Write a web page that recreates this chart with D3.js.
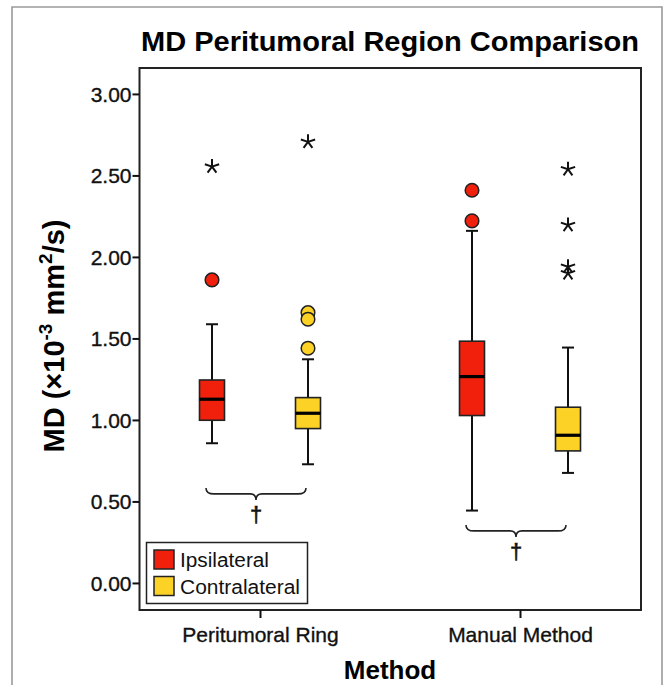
<!DOCTYPE html>
<html>
<head>
<meta charset="utf-8">
<script src="https://cdn.jsdelivr.net/npm/d3@7"></script>
<style>
  html, body { margin: 0; padding: 0; background: #fff; }
  svg { display: block; font-family: "Liberation Sans", Arial, Helvetica, sans-serif; }
</style>
</head>
<body>
<svg id="chart" width="663" height="685"></svg>
<script>
// ---- data ----
const methods = ["Peritumoral Ring", "Manual Method"];
const sides = ["Ipsilateral", "Contralateral"];
const sideColors = ["#f0200c", "#fdd227"];

// five-number summaries per method, per side: [whiskerLow, q1, median, q3, whiskerHigh]
const ipsilateralStats = [
  [0.857, 0.998, 1.127, 1.245, 1.587],
  [0.444, 1.027, 1.266, 1.483, 2.160]
];
const contralateralStats = [
  [0.728, 0.947, 1.041, 1.137, 1.372],
  [0.675, 0.810, 0.906, 1.078, 1.444]
];

// mild outliers (circles) and extreme outliers (asterisks)
const ipsilateralOutliers = [[1.859], [2.409, 2.221]];
const contralateralOutliers = [[1.440, 1.658, 1.618], []];
const ipsilateralExtremes = [[2.554], []];
const contralateralExtremes = [[2.706], [2.538, 2.196, 1.940, 1.900]];

// significance braces under each method
const braceLevels = [0.583, 0.356];
const braceSymbol = "†";

const yTicks = [0, 0.5, 1, 1.5, 2, 2.5, 3];

// ---- layout ----
const svg = d3.select("#chart");
const plot = { left: 139.5, top: 68, right: 641, bottom: 610 };

const y = d3.scaleLinear().domain([-0.166, 3.159]).range([plot.bottom, plot.top]);
const x = d3.scalePoint().domain(methods).range([260, 520]);
const side = d3.scalePoint().domain(sides).range([-48, 48]);
const boxW = 25, capW = 12;

// outer frame
svg.append("path")
  .attr("d", "M12,700 V7 H662 V700")
  .attr("fill", "none").attr("stroke", "#9a9a9a").attr("stroke-width", 1.6);

// title
svg.append("text")
  .attr("x", 390).attr("y", 51)
  .attr("text-anchor", "middle")
  .attr("font-size", 28).attr("font-weight", "bold")
  .attr("textLength", 498).attr("lengthAdjust", "spacingAndGlyphs")
  .text("MD Peritumoral Region Comparison");

// plot frame
svg.append("rect")
  .attr("x", plot.left).attr("y", plot.top)
  .attr("width", plot.right - plot.left).attr("height", plot.bottom - plot.top)
  .attr("fill", "none").attr("stroke", "#222").attr("stroke-width", 2);

// y axis
const yAxis = d3.axisLeft(y).tickValues(yTicks).tickFormat(d3.format(".2f")).tickSize(7).tickSizeOuter(0);
const gy = svg.append("g").attr("transform", `translate(${plot.left},0)`).call(yAxis);
gy.attr("font-size", null).attr("font-family", null);
gy.select(".domain").remove();
gy.selectAll(".tick line").attr("stroke", "#111").attr("stroke-width", 2);
gy.selectAll(".tick text").style("font-size", "21px").attr("fill", "#111")
  .attr("stroke", "#111").attr("stroke-width", 0.35)
  .attr("x", -8).attr("dy", "0.35em");

// x axis
const xAxis = d3.axisBottom(x).tickSize(8).tickSizeOuter(0);
const gx = svg.append("g").attr("transform", `translate(0,${plot.bottom})`).call(xAxis);
gx.attr("font-size", null).attr("font-family", null);
gx.select(".domain").remove();
gx.selectAll(".tick line").attr("stroke", "#111").attr("stroke-width", 2);
gx.selectAll(".tick text").style("font-size", "21px").attr("fill", "#111")
  .attr("stroke", "#111").attr("stroke-width", 0.35).attr("y", 17);

// axis titles
svg.append("text")
  .attr("x", 390).attr("y", 679)
  .attr("text-anchor", "middle").attr("font-size", 26).attr("font-weight", "bold")
  .text("Method");

const yTitle = svg.append("text")
  .attr("transform", "translate(64,336) rotate(-90)")
  .attr("text-anchor", "middle").attr("font-size", 29).attr("font-weight", "bold");
yTitle.append("tspan").text("MD (×10");
yTitle.append("tspan").attr("font-size", 19).attr("dy", -12).text("-3");
yTitle.append("tspan").attr("dy", 12).text(" mm");
yTitle.append("tspan").attr("font-size", 19).attr("dy", -12).text("2");
yTitle.append("tspan").attr("dy", 12).text("/s)");

// boxplots
const statsBySide = [ipsilateralStats, contralateralStats];
const outliersBySide = [ipsilateralOutliers, contralateralOutliers];
const extremesBySide = [ipsilateralExtremes, contralateralExtremes];

function asteriskPath(cx, cy, r) {
  let d = "";
  for (let k = 0; k < 5; k++) {
    const a = -Math.PI / 2 + k * 2 * Math.PI / 5;
    d += `M${cx},${cy}L${cx + r * Math.cos(a)},${cy + r * Math.sin(a)}`;
  }
  return d;
}

sides.forEach((s, si) => {
  methods.forEach((m, mi) => {
    const [lo, q1, med, q3, hi] = statsBySide[si][mi];
    const cx = x(m) + side(s);
    const g = svg.append("g");
    // whiskers
    g.append("line").attr("x1", cx).attr("x2", cx).attr("y1", y(hi)).attr("y2", y(q3))
      .attr("stroke", "#111").attr("stroke-width", 2);
    g.append("line").attr("x1", cx).attr("x2", cx).attr("y1", y(q1)).attr("y2", y(lo))
      .attr("stroke", "#111").attr("stroke-width", 2);
    [lo, hi].forEach(v => g.append("line")
      .attr("x1", cx - capW / 2).attr("x2", cx + capW / 2).attr("y1", y(v)).attr("y2", y(v))
      .attr("stroke", "#111").attr("stroke-width", 2));
    // box
    g.append("rect").attr("x", cx - boxW / 2).attr("y", y(q3))
      .attr("width", boxW).attr("height", y(q1) - y(q3))
      .attr("fill", sideColors[si]).attr("stroke", "#222").attr("stroke-width", 1.6);
    // median
    g.append("line").attr("x1", cx - boxW / 2).attr("x2", cx + boxW / 2)
      .attr("y1", y(med)).attr("y2", y(med)).attr("stroke", "#000").attr("stroke-width", 3.2);
    // outliers
    g.selectAll("circle.o").data(outliersBySide[si][mi]).join("circle")
      .attr("cx", cx).attr("cy", d => y(d)).attr("r", 6.8)
      .attr("fill", sideColors[si]).attr("stroke", "#222").attr("stroke-width", 1.5);
    // extremes
    g.selectAll("path.e").data(extremesBySide[si][mi]).join("path")
      .attr("d", d => asteriskPath(cx, y(d), 7.5))
      .attr("stroke", "#111").attr("stroke-width", 2).attr("fill", "none");
  });
});

// significance braces
methods.forEach((m, mi) => {
  const x0 = x(m) + side(sides[0]) - 6, x1 = x(m) + side(sides[1]) - 2;
  const xm = (x0 + x1) / 2;
  const yb = y(braceLevels[mi]);
  const h = 6, t = 12;
  const d = `M${x0},${yb} Q${x0},${yb + h} ${x0 + 8},${yb + h} L${xm - 6},${yb + h} Q${xm},${yb + h} ${xm},${yb + t}` +
            ` Q${xm},${yb + h} ${xm + 6},${yb + h} L${x1 - 8},${yb + h} Q${x1},${yb + h} ${x1},${yb}`;
  svg.append("path").attr("d", d).attr("fill", "none").attr("stroke", "#222").attr("stroke-width", 1.6);
  svg.append("text").attr("x", xm).attr("y", yb + 34)
    .attr("text-anchor", "middle").attr("font-size", 22).attr("fill", "#111")
    .attr("stroke", "#111").attr("stroke-width", 0.6).text(braceSymbol);
});

// legend
const legend = svg.append("g");
legend.append("rect").attr("x", 146.5).attr("y", 542.5).attr("width", 161).attr("height", 61)
  .attr("fill", "#fff").attr("stroke", "#222").attr("stroke-width", 1.5);
sides.forEach((s, i) => {
  const yy = 550 + i * 26.5;
  legend.append("rect").attr("x", 154).attr("y", yy).attr("width", 20).attr("height", 19)
    .attr("fill", sideColors[i]).attr("stroke", "#222").attr("stroke-width", 1.5);
  legend.append("text").attr("x", 180).attr("y", yy + 17)
    .attr("font-size", 20).attr("fill", "#111")
    .attr("textLength", i === 0 ? 89 : 120).attr("lengthAdjust", "spacingAndGlyphs").text(s);
});
</script>
</body>
</html>
